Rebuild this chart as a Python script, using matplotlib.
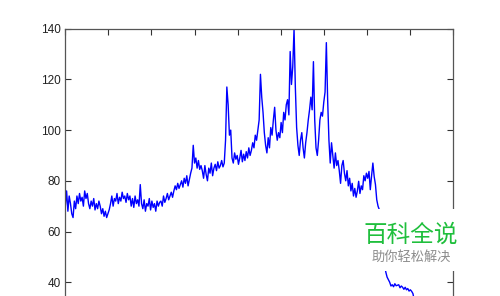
import numpy as np
import matplotlib.pyplot as plt
import matplotlib.patches as mpatches

plt.rcParams['font.family'] = ['Liberation Sans', 'DejaVu Sans']

# series, one value every 3 x-units
values = [
    70, 76, 68, 74, 71, 67, 65.5, 72, 69, 74, 71, 75, 72, 73.5, 70, 76, 73, 75, 71,
    69, 72, 70, 73, 68.5, 71, 69, 72,
    70, 67, 69, 66, 68, 65.5, 67, 68.6,
    71, 74, 70, 73, 72, 75, 71, 73.5,
    72, 75.5, 73, 74, 71.5, 75, 72.5, 74,
    70, 73, 69.5, 74, 71, 72.5, 70, 78.5,
    71, 69, 72.5, 68, 71, 70, 73, 68.5, 72, 69.5, 71, 68, 72, 70, 71.5,
    72, 70, 74, 71.5, 73, 75, 72.5, 74,
    75.5, 73.5, 76, 78, 76.5, 79, 77, 78.5,
    80, 77.5, 81, 79, 82, 78, 80.5, 83,
    85, 94, 87, 89, 85, 88, 84.5, 86,
    84, 81, 86, 82.5, 80, 85, 83, 87, 82,
    85, 86.5, 84, 87.5, 85, 86, 88, 85.5, 87,
    96, 117, 110, 98, 100,
    89, 87, 91, 88.5, 90, 86.5, 89, 92, 87.5, 90.5, 88, 91.5, 89, 93, 90,
    92, 95, 93, 98, 96, 100, 104,
    122, 113, 107, 99,
    94, 91, 97, 93, 101, 98, 104, 109, 100, 96, 99, 97,
    103, 99, 107, 104, 110, 112, 106,
    131, 118, 125, 140, 117, 101,
    94, 90, 96, 99, 93, 89, 95, 99, 104, 108, 113, 108,
    127, 104, 93, 90, 96,
    104, 107, 105.5, 111, 115,
    134.5, 112, 96,
    87, 95, 90, 85, 91, 86, 88, 84, 79, 86, 88,
    83, 80, 84, 78, 81, 76, 79, 74, 77, 73.5, 76, 79.8,
    75, 78, 76.5, 82, 80, 83, 81, 83.7, 76.5, 82, 87, 81.7, 78.5, 72.5, 70, 68.6,
    64, 58, 52, 47, 44, 42, 41,
    40, 38.5, 39, 38.2, 39.4, 38.6, 38.8, 39, 37.8, 38.5, 38, 37.2, 38, 37, 37.5,
    36.5, 37, 36.4, 35.5, 33,
]
x = np.arange(len(values)) * 3

y_ticks = [40, 60, 80, 100, 120, 140]
x_ticks = list(range(0, 901, 100))

fig = plt.figure(figsize=(5, 2.96), dpi=100)
ax = fig.add_axes([0.1306, 1 - 332.9 / 296, 0.7754, 304.2 / 296])
ax.plot(x, values, color='#0000ff', linewidth=1.0)

ax.set_xlim(0, 900)
ax.set_ylim(20, 140)
ax.set_yticks(y_ticks)
ax.set_xticks(x_ticks)
ax.tick_params(direction='in', length=4, width=0.8, color='#333333',
               top=True, right=True, labelsize=8.5, labelcolor='#222222',
               labelbottom=False)
for s in ax.spines.values():
    s.set_color('#555555')
    s.set_linewidth(0.9)

# watermark
fig.patches.append(mpatches.Rectangle((355 / 500, 1 - 271 / 296), 145 / 500, 62 / 296,
                                      transform=fig.transFigure, facecolor='white',
                                      edgecolor='none', zorder=5))
fig.text(411 / 500, 1 - 235 / 296, '百科全说', color='#1fbf3c', fontsize=17,
         ha='center', va='center', family=['Noto Sans CJK SC', 'DejaVu Sans'],
         weight='medium', zorder=6)
fig.text(411 / 500, 1 - 257 / 296, '助你轻松解决', color='#8c8c8c', fontsize=9.5,
         ha='center', va='center', family=['Noto Sans CJK SC', 'DejaVu Sans'], zorder=6)

fig.savefig('out.png', dpi=100)
